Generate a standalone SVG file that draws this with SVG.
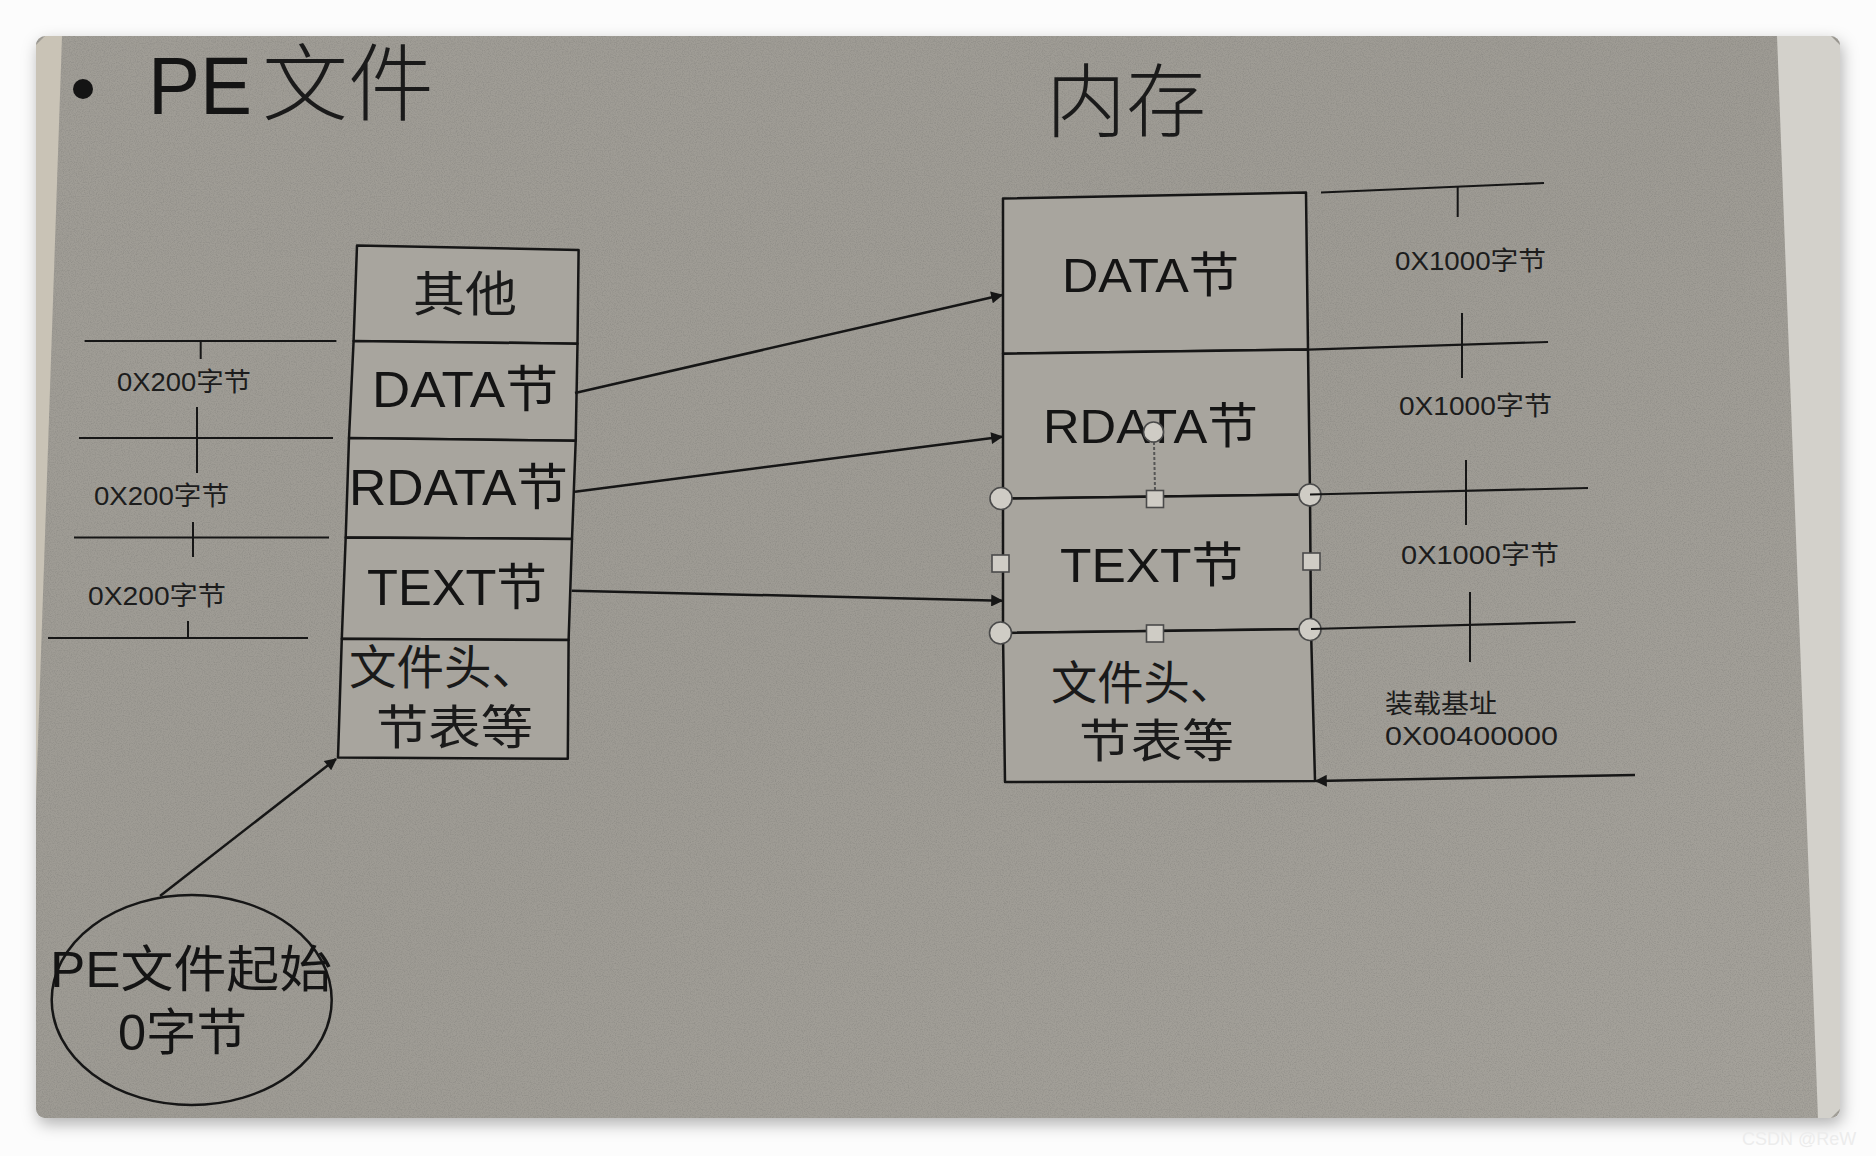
<svg xmlns="http://www.w3.org/2000/svg" width="1876" height="1156" viewBox="0 0 1876 1156">
<style>
.t{font-family:"Liberation Sans","Noto Sans CJK SC",sans-serif;fill:#141414}
.c{font-family:"Noto Sans CJK SC",sans-serif;fill:#1a1a1a}
.cell{fill:#a8a59e;stroke:#161616;stroke-width:2.5;stroke-linejoin:round}
.ln{stroke:#161616;stroke-width:2.2;fill:none}
.tk{stroke:#161616;stroke-width:2;fill:none}
.arr{stroke:#161616;stroke-width:2.5;fill:none;marker-end:url(#ah)}
.hc{fill:#cfccc5;stroke:#4a4a4a;stroke-width:1.6}
.lab{font-family:"Liberation Sans","Noto Sans CJK SC",sans-serif;fill:#1c1c1c;font-size:26px}
</style>
<defs>
<marker id="ah" viewBox="0 0 10 10" refX="9" refY="5" markerWidth="17" markerHeight="12" markerUnits="userSpaceOnUse" orient="auto">
<path d="M0,0 L10,5 L0,10 z" fill="#161616"/>
</marker>
<filter id="sh" x="-5%" y="-5%" width="110%" height="115%">
<feDropShadow dx="2" dy="6" stdDeviation="8" flood-color="#000" flood-opacity="0.3"/>
</filter>
<filter id="grain" x="0" y="0" width="100%" height="100%">
<feTurbulence type="fractalNoise" baseFrequency="0.85" numOctaves="2" seed="3" result="n"/>
<feColorMatrix in="n" type="matrix" values="0 0 0 0 0.15  0 0 0 0 0.15  0 0 0 0 0.14  0 0 0 1.1 -0.45"/>
</filter>
<linearGradient id="bg" x1="0" y1="0" x2="1" y2="1">
<stop offset="0" stop-color="#a09d96"/>
<stop offset="0.5" stop-color="#9e9b94"/>
<stop offset="1" stop-color="#a5a29b"/>
</linearGradient>
<clipPath id="pc"><rect x="36" y="36" width="1804" height="1082" rx="9"/></clipPath>
</defs>
<rect width="1876" height="1156" fill="#fcfcfc"/>
<g id="photo">
<rect x="36" y="36" width="1804" height="1082" rx="9" fill="url(#bg)" filter="url(#sh)"/>
<rect x="36" y="36" width="1804" height="1082" clip-path="url(#pc)" filter="url(#grain)" opacity="0.55"/>
<polygon points="1777,36 1831,36 1840,45 1840,1109 1831,1118 1818,1118" fill="#d3d1cb"/>
<polygon points="45,36 62,36 36,800 36,45" fill="#c9c3b6"/>
</g>
<g id="title-pe">
<circle cx="83" cy="89" r="10" fill="#141414"/>
<text class="t" x="148" y="114" font-size="82" textLength="104" lengthAdjust="spacingAndGlyphs">PE</text>
<text class="c" x="262" y="114" font-size="84" font-weight="300" textLength="172" lengthAdjust="spacingAndGlyphs">文件</text>
</g>
<g id="title-mem">
<text class="c" x="1046" y="130" font-size="80" font-weight="300" textLength="160" lengthAdjust="spacingAndGlyphs">内存</text>
</g>
<g id="pe-other">
<polygon class="cell" points="357,245.5 578.6,250 577.5,343.7 353.6,341"/>
<text class="c" x="413" y="311" font-size="48" textLength="104" lengthAdjust="spacingAndGlyphs">其他</text>
</g>
<g id="pe-data">
<polygon class="cell" points="353.6,341 577.5,343.7 575.7,440.8 349,438"/>
<text class="t" x="372" y="407" font-size="50" textLength="186" lengthAdjust="spacingAndGlyphs">DATA节</text>
</g>
<g id="pe-rdata">
<polygon class="cell" points="349,438 575.7,440.8 572,539 345.7,537.5"/>
<text class="t" x="349" y="505" font-size="50" textLength="219" lengthAdjust="spacingAndGlyphs">RDATA节</text>
</g>
<g id="pe-text">
<polygon class="cell" points="345.7,537.5 572,539 568.6,640 341.8,638.8"/>
<text class="t" x="367" y="605" font-size="50" textLength="180" lengthAdjust="spacingAndGlyphs">TEXT节</text>
</g>
<g id="pe-header">
<polygon class="cell" points="341.8,638.8 568.6,640 567.8,758.7 338,757.6"/>
<text class="c" font-size="47"><tspan x="349" y="684" textLength="190" lengthAdjust="spacingAndGlyphs">文件头、</tspan><tspan x="376" y="744" textLength="157" lengthAdjust="spacingAndGlyphs">节表等</tspan></text>
</g>
<g id="mem-data">
<polygon class="cell" points="1003,198.6 1306,192.5 1308,349.6 1003,353.7"/>
<text class="t" x="1062" y="292" font-size="48" textLength="177" lengthAdjust="spacingAndGlyphs">DATA节</text>
</g>
<g id="mem-rdata">
<polygon class="cell" points="1003,353.7 1308,349.6 1310,494.5 1003,498.6"/>
<text class="t" x="1043" y="443" font-size="49" textLength="215" lengthAdjust="spacingAndGlyphs">RDATA节</text>
</g>
<g id="mem-text">
<polygon class="cell" points="1003,498.6 1310,494.5 1311,629 1003,633" stroke-width="4"/>
<text class="t" x="1060" y="582" font-size="48" textLength="183" lengthAdjust="spacingAndGlyphs">TEXT节</text>
</g>
<g id="mem-header">
<polygon class="cell" points="1003,633 1311,629 1315,781 1005,782"/>
<text class="c" font-size="46"><tspan x="1051" y="699" textLength="185" lengthAdjust="spacingAndGlyphs">文件头、</tspan><tspan x="1079" y="757" textLength="155" lengthAdjust="spacingAndGlyphs">节表等</tspan></text>
</g>
<g id="selection-handles">
<line x1="1154" y1="442" x2="1155" y2="490" stroke="#555" stroke-width="2" stroke-dasharray="3,2"/>
<circle class="hc" cx="1153.5" cy="432" r="10"/>
<circle class="hc" cx="1001" cy="498.5" r="11"/>
<circle class="hc" cx="1310" cy="495" r="11"/>
<circle class="hc" cx="1000.5" cy="633" r="11"/>
<circle class="hc" cx="1310" cy="629.5" r="11"/>
<rect class="hc" x="1146.5" y="490.5" width="17" height="17"/>
<rect class="hc" x="1146.5" y="625" width="17" height="17"/>
<rect class="hc" x="992" y="555" width="17" height="17"/>
<rect class="hc" x="1303" y="553" width="17" height="17"/>
</g>
<g id="pe-size-scale">
<line class="ln" x1="84.6" y1="341" x2="336.4" y2="341"/>
<line class="ln" x1="79" y1="438" x2="333" y2="438"/>
<line class="ln" x1="74" y1="537.5" x2="329" y2="537.5"/>
<line class="ln" x1="48" y1="638" x2="308" y2="638"/>
<line class="tk" x1="200.7" y1="341" x2="200.7" y2="359"/>
<line class="tk" x1="197" y1="407" x2="197" y2="473"/>
<line class="tk" x1="193" y1="522" x2="193" y2="557"/>
<line class="tk" x1="188" y1="621" x2="188" y2="638"/>
<text class="lab" x="117" y="391" font-size="24" textLength="134" lengthAdjust="spacingAndGlyphs">0X200字节</text>
<text class="lab" x="94" y="505" font-size="24" textLength="135" lengthAdjust="spacingAndGlyphs">0X200字节</text>
<text class="lab" x="88" y="605" font-size="24" textLength="138" lengthAdjust="spacingAndGlyphs">0X200字节</text>
</g>
<g id="mem-size-scale">
<line class="ln" x1="1321" y1="192.5" x2="1544" y2="183"/>
<line class="ln" x1="1308" y1="349.6" x2="1548" y2="342"/>
<line class="ln" x1="1310" y1="494.5" x2="1588" y2="488"/>
<line class="ln" x1="1311" y1="629" x2="1575.6" y2="622"/>
<line class="tk" x1="1457.7" y1="187" x2="1457.7" y2="217"/>
<line class="tk" x1="1462" y1="313" x2="1462" y2="378"/>
<line class="tk" x1="1466" y1="460" x2="1466" y2="525"/>
<line class="tk" x1="1470" y1="592" x2="1470" y2="662"/>
<text class="lab" x="1395" y="270" font-size="27" textLength="151" lengthAdjust="spacingAndGlyphs">0X1000字节</text>
<text class="lab" x="1399" y="415" font-size="27" textLength="153" lengthAdjust="spacingAndGlyphs">0X1000字节</text>
<text class="lab" x="1401" y="564" font-size="27" textLength="158" lengthAdjust="spacingAndGlyphs">0X1000字节</text>
</g>
<g id="load-base">
<text class="lab" font-size="28"><tspan x="1385" y="713" textLength="112" lengthAdjust="spacingAndGlyphs">装载基址</tspan><tspan x="1385" y="745" textLength="173" lengthAdjust="spacingAndGlyphs">0X00400000</tspan></text>
</g>
<g id="pe-start">
<ellipse cx="191.7" cy="1000" rx="140" ry="105" fill="none" stroke="#161616" stroke-width="2.5"/>
<text class="t" font-size="50"><tspan x="50" y="987" textLength="282" lengthAdjust="spacingAndGlyphs">PE文件起始</tspan><tspan x="118" y="1050" textLength="129" lengthAdjust="spacingAndGlyphs">0字节</tspan></text>
</g>
<g id="connectors">
<line class="arr" x1="575" y1="393" x2="1002" y2="295"/>
<line class="arr" x1="575" y1="491.7" x2="1002" y2="436.7"/>
<line class="arr" x1="571.7" y1="590.7" x2="1002" y2="600.7"/>
<line class="arr" x1="160" y1="896" x2="336" y2="759"/>
<line class="arr" x1="1635" y1="775" x2="1316" y2="781"/>
</g>
<text x="1742" y="1145" font-family="Liberation Sans, sans-serif" font-size="18" fill="#ececec">CSDN @ReW</text>
</svg>
